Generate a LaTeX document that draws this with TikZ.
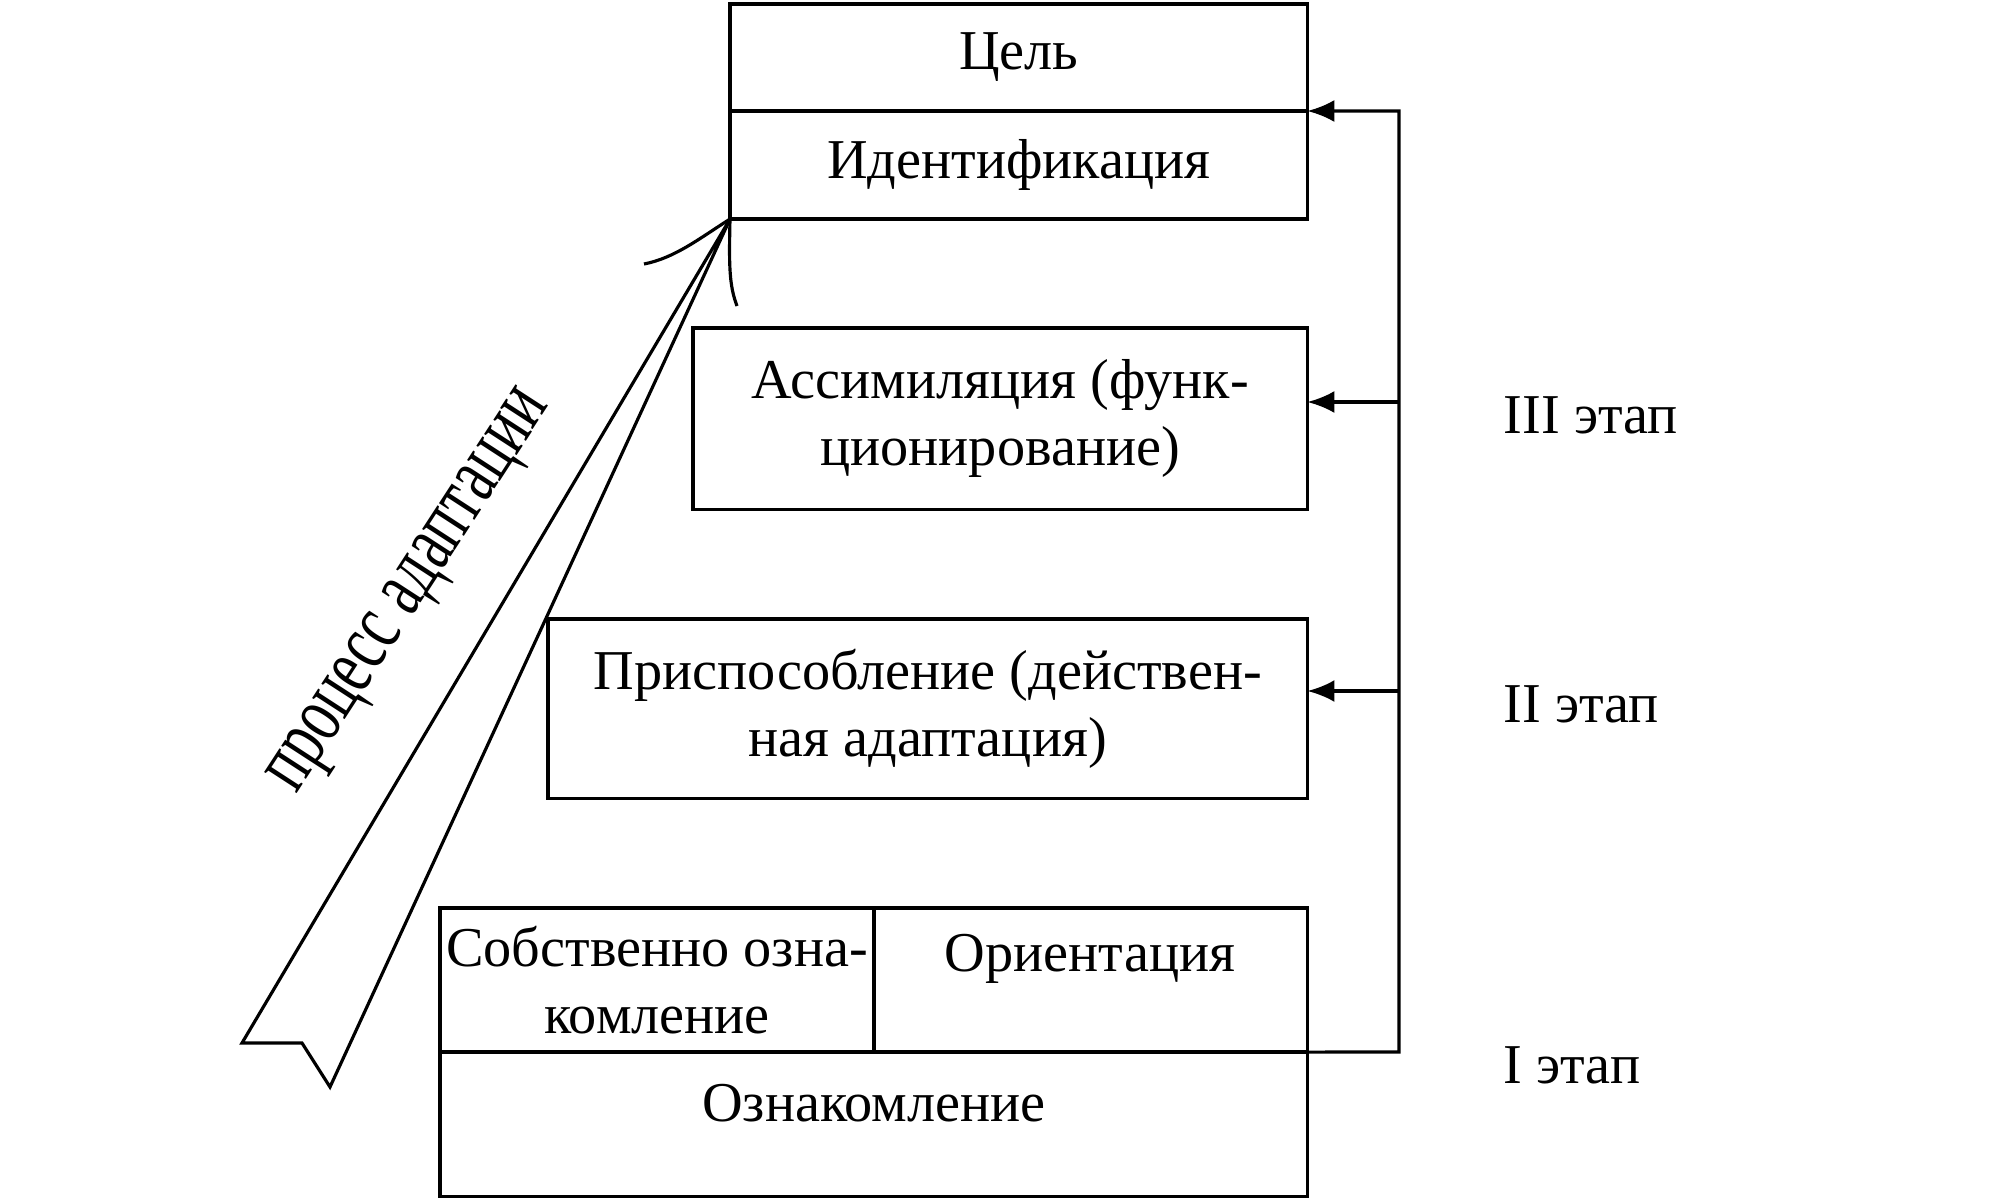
\documentclass[tikz,border=0pt]{standalone}
\usepackage{fontspec}
\setmainfont{Liberation Serif}
\usetikzlibrary{arrows.meta}
\newcommand{\boxfont}{\fontsize{16}{19}\selectfont}
\newcommand{\rotfont}{\fontsize{24}{28}\selectfont}
\begin{document}
\begin{tikzpicture}[x=0.01cm,y=-0.01cm,
  box/.style={draw, line width=0.9pt, inner sep=0pt, outer sep=0pt, align=center, font=\boxfont, anchor=north west},
  txt/.style={inner sep=0pt, align=center, font=\boxfont},
  conn/.style={line width=0.9pt},
  arr/.style={line width=0.9pt, -{Latex[length=0.27cm,width=0.22cm]}}]
\useasboundingbox (0,0) rectangle (2000,1200);
% boxes
\node[box, minimum width=5.77cm, minimum height=1.07cm] (cel) at (730,4) {Цель};
\node[box, minimum width=5.77cm, minimum height=1.08cm] (ident) at (730,111) {Идентификация};
\node[box, minimum width=6.14cm, minimum height=1.81cm] (assim) at (693,328) {Ассимиляция (функ-\\ционирование)};
\node[box, minimum width=7.59cm, minimum height=1.79cm] (prisp) at (548,619) {Приспособление (действен-\\ная адаптация)};
\node[box, minimum width=4.34cm, minimum height=1.44cm] (sobst) at (440,908) {Собственно озна-\\комление};
\node[box, minimum width=4.33cm, minimum height=1.44cm] (orient) at (874,908) {};
\node[txt] (orientT) at (1090,959) {Ориентация};
\node[box, minimum width=8.67cm, minimum height=1.44cm] (oznak) at (440,1052) {};
\node[txt] (oznakT) at (874,1103) {Ознакомление};
% feedback
\coordinate (fb1) at (1399,1052);
\coordinate (fa) at (1399,402);
\coordinate (fb) at (1399,691);
\draw[arr] (orient.south east) -- (fb1) |- (ident.north east);
\draw[arr] (fa) -- (fa -| assim.east);
\draw[arr] (fb) -- (fb -| prisp.east);
% stage labels
\node[txt, anchor=west] (s3) at (1503,415) {III этап};
\node[txt, anchor=west] (s2) at (1503,704) {II этап};
\node[txt, anchor=west] (s1) at (1503,1065) {I этап};
% big arrow
\coordinate (tip) at (ident.south west);
\coordinate (la) at (242,1043);
\coordinate (lb) at (302,1043);
\coordinate (nt) at (330,1087);
\draw[conn, line join=miter] (tip) -- (la) -- (lb) -- (nt) -- cycle;
\draw[conn] (tip) .. controls (700,238) and (675,258) .. (644,264);
\draw[conn] (tip) .. controls (729,265) and (729,285) .. (737,306);
\node[rotate=57, inner sep=0pt, font=\rotfont] (proc) at (414,594) {\scalebox{0.68}[1]{процесс адаптации}};
\end{tikzpicture}
\end{document}
